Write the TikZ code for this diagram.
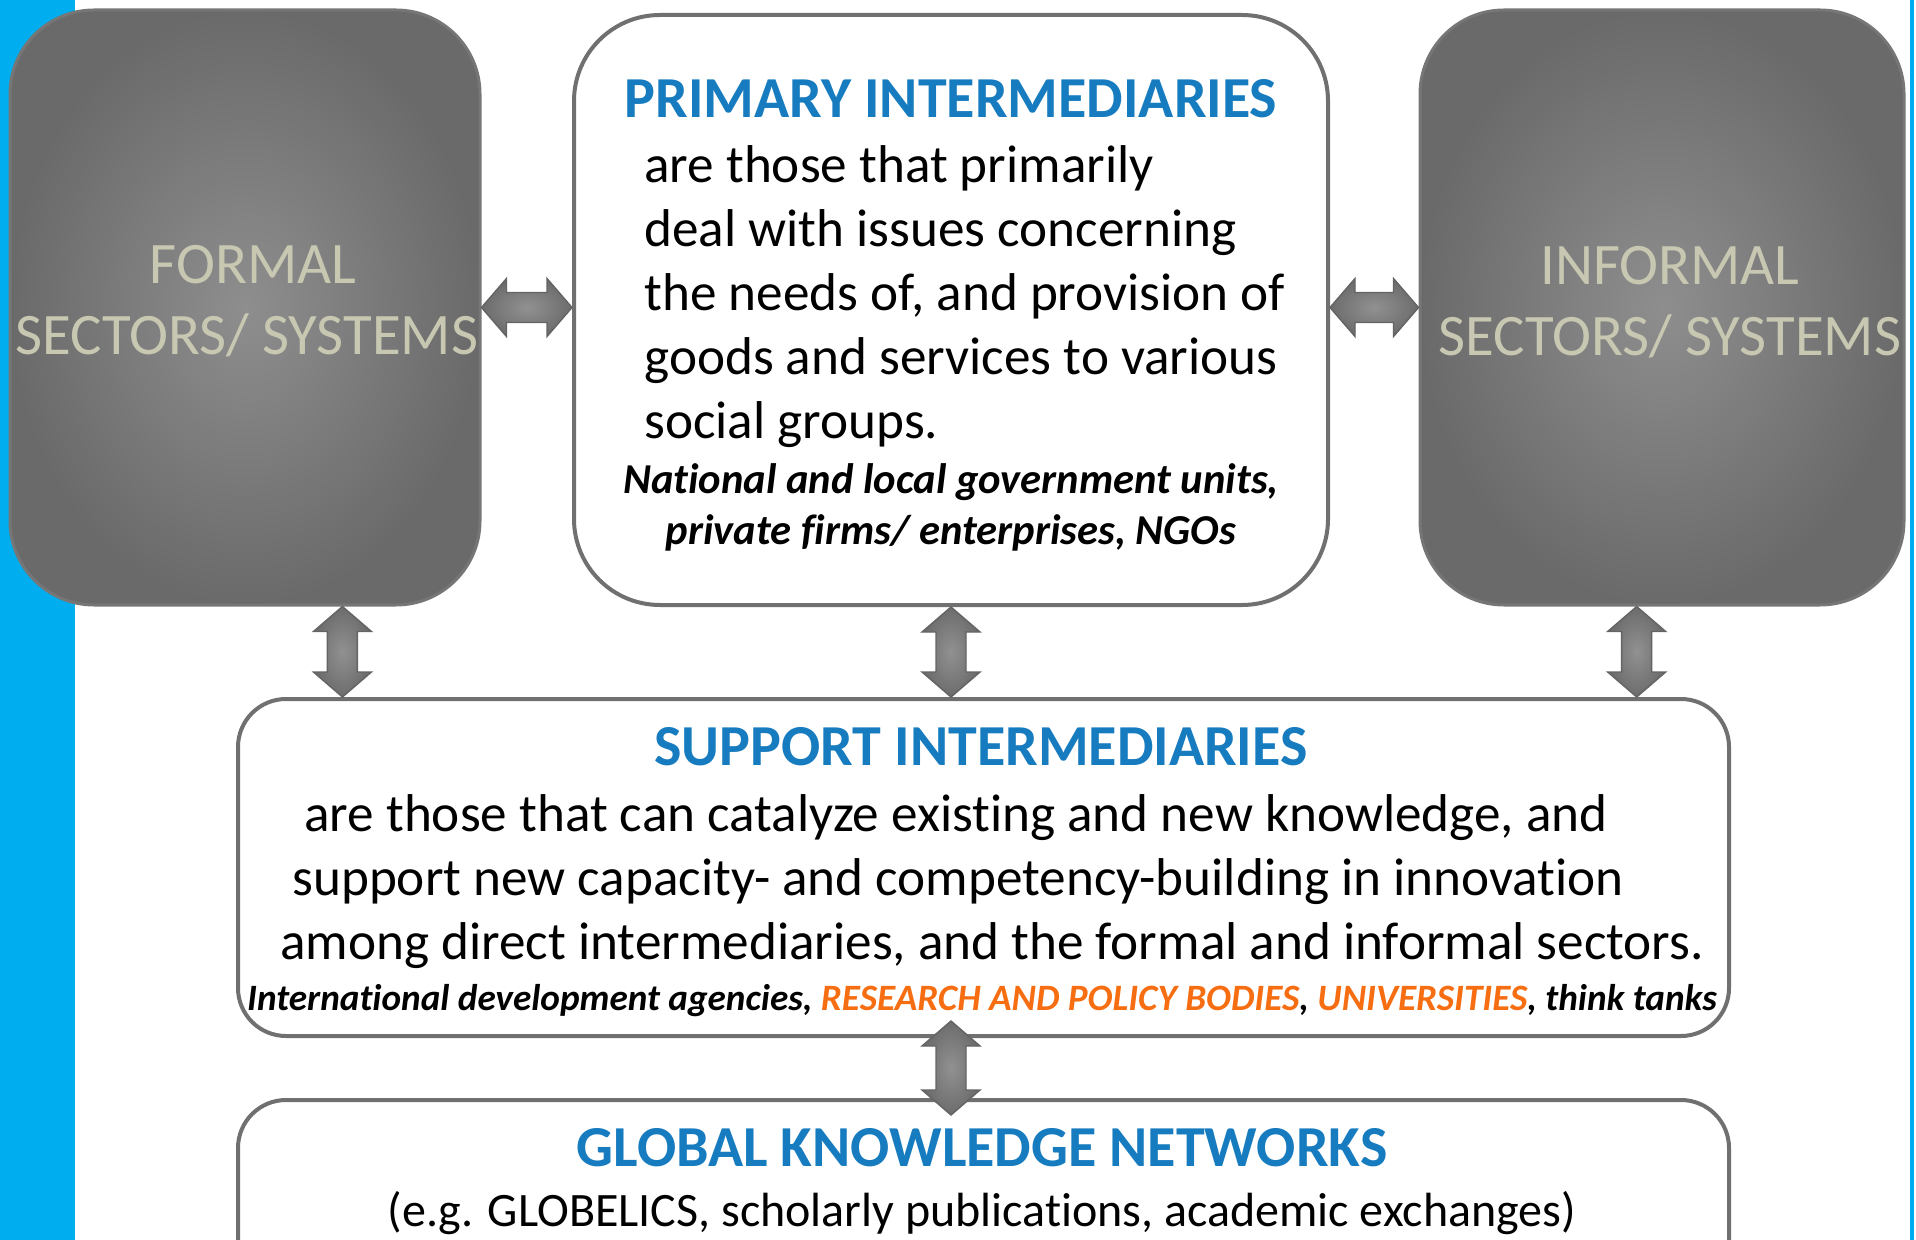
\documentclass[tikz,border=0pt]{standalone}
\usepackage{fontspec}
\setmainfont{Carlito}[Ligatures={NoCommon}]
\usetikzlibrary{calc}
\definecolor{bluebar}{RGB}{0,174,239}
\definecolor{headblue}{RGB}{22,124,191}
\definecolor{orng}{RGB}{247,110,18}
\definecolor{boxline}{RGB}{112,112,112}
\definecolor{graytext}{RGB}{200,200,178}
\definecolor{shadein}{RGB}{142,142,142}
\definecolor{shadeout}{RGB}{106,106,106}
\definecolor{grayedge}{RGB}{118,118,118}
\definecolor{arrowin}{RGB}{145,145,145}
\definecolor{arrowout}{RGB}{108,108,108}
\definecolor{arrowline}{RGB}{100,100,100}
\newcommand\hdarrow[2]{%
  \path[blockarrow] (#1) -- ($(#1)+(25,-29)$) -- ($(#1)+(25,-15)$) -- ($(#2)+(-25,-15)$) -- ($(#2)+(-25,-29)$) -- (#2)
   -- ($(#2)+(-25,29)$) -- ($(#2)+(-25,15)$) -- ($(#1)+(25,15)$) -- ($(#1)+(25,29)$) -- cycle;}
\newcommand\vdarrow[2]{%
  \path[blockarrow] (#1) -- ($(#1)+(29,25)$) -- ($(#1)+(15,25)$) -- ($(#2)+(15,-25)$) -- ($(#2)+(29,-25)$) -- (#2)
   -- ($(#2)+(-29,-25)$) -- ($(#2)+(-15,-25)$) -- ($(#1)+(-15,25)$) -- ($(#1)+(-29,25)$) -- cycle;}
\begin{document}
\begin{tikzpicture}[x=0.5pt,y=-0.5pt,
  graybox/.style={rectangle, rounded corners=42pt, inner sep=0pt, draw=grayedge, line width=1.5pt, inner color=shadein, outer color=shadeout},
  whitebox/.style={rectangle, inner sep=0pt, draw=boxline, line width=2pt, fill=white},
  blockarrow/.style={draw=arrowline, line width=0.7pt, inner color=arrowin, outer color=arrowout},
  head/.style={font=\fontsize{29}{35}\selectfont\bfseries, text=headblue, inner sep=0pt},
  body/.style={font=\fontsize{26.6}{32}\selectfont, text=black, inner sep=0pt},
  gtext/.style={font=\fontsize{29.4}{35}\selectfont, text=graytext, inner sep=0pt},
  ital/.style={font=\fontsize{21.3}{26}\selectfont\bfseries\itshape, text=black, inner sep=0pt},
]
\useasboundingbox (0,0) rectangle (1916,1240);
\clip (0,0) rectangle (1916,1240);
\fill[bluebar] (0,0) rectangle (75,1240);
\fill[bluebar] (1910,0) rectangle (1914,1240);

\node[graybox, minimum width=235pt, minimum height=297.5pt] (formal) at (245,307.5) {};
\node[whitebox, rounded corners=43pt, minimum width=377pt, minimum height=295pt] (primary) at (951,310) {};
\node[graybox, minimum width=242pt, minimum height=297.5pt] (informal) at (1662,307.5) {};
\node[whitebox, rounded corners=24pt, minimum width=745.5pt, minimum height=168.5pt] (support) at (983.5,867.5) {};
\node[whitebox, rounded corners=24pt, minimum width=745.5pt, minimum height=100pt] (global) at (983.5,1200) {};

% connectors
\coordinate (hA1) at (formal.east);
\coordinate (hB1) at (formal.east -| primary.west);
\coordinate (hA2) at (primary.east |- formal.east);
\coordinate (hB2) at (informal.west);
\coordinate (vA1) at ($(formal.south west)!0.706!(formal.south east)$);
\coordinate (vB1) at (vA1 |- support.north);
\coordinate (vA2) at (primary.south);
\coordinate (vB2) at (primary.south |- support.north);
\coordinate (vA3) at ($(informal.south west)!0.448!(informal.south east)$);
\coordinate (vB3) at (vA3 |- support.north);
\coordinate (vA4) at ($(primary.south |- support.south)+(0,-17)$);
\coordinate (vB4) at ($(primary.south |- global.north)+(0,17)$);
\hdarrow{hA1}{hB1}
\hdarrow{hA2}{hB2}
\vdarrow{vA1}{vB1}
\vdarrow{vA2}{vB2}
\vdarrow{vA3}{vB3}
\vdarrow{vA4}{vB4}

% gray boxes text
\node[gtext, anchor=base] (ftxt1) at (253,284) {FORMAL};
\node[gtext, anchor=base] (ftxt2) at (247,355) {SECTORS/ SYSTEMS};
\node[gtext, anchor=base] (itxt1) at (1670,285) {INFORMAL};
\node[gtext, anchor=base] (itxt2) at (1670,356) {SECTORS/ SYSTEMS};

% primary
\node[head, anchor=base] (ptitle) at (951,118) {PRIMARY INTERMEDIARIES};
\foreach \txt [count=\i] in {are those that primarily, deal with issues concerning, {the needs of, and provision of}, goods and services to various, social groups.}
  \node[body, anchor=base west] (pbody\i) at (644,{119+64*\i}) {\txt};
\node[ital, anchor=base] (pex1) at (951,494) {National and local government units,};
\node[ital, anchor=base] (pex2) at (951,545) {private firms/ enterprises, NGOs};

% support
\node[head, anchor=base] (stitle) at (981,765) {SUPPORT INTERMEDIARIES};
\node[body, anchor=base west] (sbody1) at (304,831) {are those that can catalyze existing and new knowledge, and};
\node[body, anchor=base west] (sbody2) at (292,895) {support new capacity- and competency-building in innovation};
\node[body, anchor=base west] (sbody3) at (280,959) {among direct intermediaries, and the formal and informal sectors.};
\node[ital, font=\fontsize{18.6}{22}\selectfont\bfseries\itshape, anchor=base] (sex) at (982,1010)
  {International development agencies, \textcolor{orng}{RESEARCH AND POLICY BODIES}, \textcolor{orng}{UNIVERSITIES}, think tanks};

% global
\node[head, anchor=base] (gtitle) at (982,1166) {GLOBAL KNOWLEDGE NETWORKS};
\node[body, font=\fontsize{24}{29}\selectfont, anchor=base] (gbody) at (982,1226) {(e.g. GLOBELICS, scholarly publications, academic exchanges)};
\end{tikzpicture}
\end{document}
